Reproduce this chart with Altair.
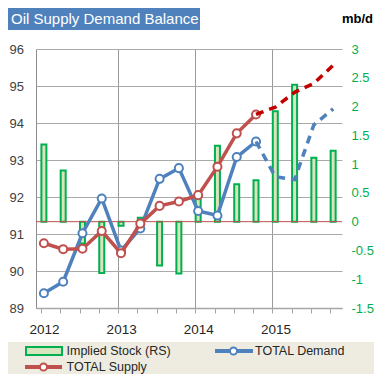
import altair as alt
import pandas as pd

# ---- data ----
quarters = list(range(16))                       # 2012Q1 .. 2015Q4
year_labels = ["2012", "2013", "2014", "2015"]
stock = [1.34, 0.89, -0.38, -0.89, -0.07, 0.07, -0.76, -0.90,
         0.42, 1.32, 0.65, 0.72, 1.92, 2.38, 1.11, 1.23]
demand_actual = [89.40, 89.71, 91.02, 91.96, 90.55, 91.15, 92.49, 92.78,
                 91.62, 91.50, 93.08, 93.50]
demand_forecast = [93.50, 92.55, 92.47, 93.95, 94.38]
supply_actual = [90.75, 90.59, 90.60, 91.08, 90.48, 91.28, 91.76, 91.88,
                 92.05, 92.82, 93.72, 94.23]
supply_forecast = [94.23, 94.43, 94.83, 95.07, 95.56]
left_ticks = [89, 90, 91, 92, 93, 94, 95, 96]
right_ticks = [-1.5, -1, -0.5, 0, 0.5, 1, 1.5, 2, 2.5, 3]
title_text = "Oil Supply Demand Balance"
unit_text = "mb/d"
legend_labels = ["Implied Stock (RS)", "TOTAL Demand", "TOTAL Supply"]

BLUE = "#4F81BD"
RED = "#C0504D"
DRED = "#C00000"
GREEN = "#00B050"
BARFILL = "#D7E4BD"
FONT = "Liberation Sans"

bars_df = pd.DataFrame({"q": quarters, "stock": stock})
zero_df = pd.DataFrame({"stock": [0]})
dem_df = pd.DataFrame({"q": quarters[:12], "v": demand_actual})
dem_f_df = pd.DataFrame({"q": quarters[11:], "v": demand_forecast})
sup_df = pd.DataFrame({"q": quarters[:12], "v": supply_actual})
sup_f_df = pd.DataFrame({"q": quarters[11:], "v": supply_forecast})
one = pd.DataFrame({"a": [0]})

# ---- scales / axes ----
x_scale = alt.Scale(domain=[-0.15, 15.2], nice=False, zero=False)
year_expr = ("round(datum.value + 0.15) % 4 == 0 ? '' + (2012 + round(datum.value + 0.15) / 4) : ''")
x_axis = alt.Axis(
    values=[q - 0.15 for q in quarters], labelExpr=year_expr, labelOffset=3,
    labelFlush=False, labelOverlap=False, labelPadding=9, tickSize=5,
    tickColor="#A6A6A6", domainColor="#A6A6A6", domainWidth=1.5,
    grid=True,
    gridColor={"condition": {"test": "datum.value > 0 && round(datum.value + 0.15) % 4 == 0",
                             "value": "#9A9A9A"}, "value": "transparent"},
    labelFontSize=13.5, labelColor="#262626", labelFont=FONT, title=None)
x_enc = alt.X("q:Q", scale=x_scale, axis=x_axis)

left_axis = alt.Axis(orient="left", values=left_ticks, grid=True, gridColor="#AAAAAA",
                     ticks=False, domain=True, domainColor="#8C8C8C",
                     labelPadding=12.5, labelFontSize=13, labelColor="#404040",
                     labelFont=FONT, title=None)
y_left = alt.Y("v:Q", scale=alt.Scale(domain=[89, 96], nice=False, zero=False), axis=left_axis)

right_axis = alt.Axis(orient="right", values=right_ticks, labelExpr="'' + datum.value",
                      grid=False, ticks=False, domain=False, labelPadding=9,
                      labelFontSize=13, labelColor=GREEN, labelFont=FONT, title=None)
y_right = alt.Y("stock:Q", scale=alt.Scale(domain=[-1.5, 3], nice=False, zero=False), axis=right_axis)

# ---- right group: bars ----
bars = alt.Chart(bars_df).mark_bar(size=5, fill=BARFILL, stroke=GREEN, strokeWidth=2).encode(
    x=x_enc, y=y_right, y2=alt.datum(0))
zero_rule = alt.Chart(zero_df).mark_rule(color=RED, strokeWidth=1).encode(y=y_right)
right_group = alt.layer(bars, zero_rule)

# ---- left group: lines ----
def line(df, color, dash=None):
    kw = dict(color=color, strokeWidth=3.5)
    if dash:
        kw["strokeDash"] = dash
    return alt.Chart(df).mark_line(**kw).encode(x=x_enc, y=y_left)

def pts(df, color):
    return alt.Chart(df).mark_point(filled=False, fill="white", fillOpacity=1, stroke=color,
                                    strokeWidth=2, size=65, opacity=1).encode(x=x_enc, y=y_left)

left_group = alt.layer(
    line(dem_df, BLUE), pts(dem_df, BLUE),
    line(sup_df, RED), pts(sup_df, RED),
    line(dem_f_df, BLUE, [8, 6]),
    line(sup_f_df, DRED, [8, 6]),
)

# ---- decorations (title box, legend) ----
def rect(x, x2, y, y2, fill, stroke=None, sw=0):
    kw = dict(fill=fill)
    if stroke:
        kw.update(stroke=stroke, strokeWidth=sw)
    return alt.Chart(one).mark_rect(**kw).encode(
        x=alt.value(x), x2=alt.value(x2), y=alt.value(y), y2=alt.value(y2))

def text(x, y, t, size=12.5, color="#262626", align="left", weight="normal"):
    return alt.Chart(one).mark_text(align=align, baseline="middle", fontSize=size, color=color,
                                    font=FONT, fontWeight=weight).encode(
        x=alt.value(x), y=alt.value(y), text=alt.value(t))

def hrule(x, x2, y, color, sw):
    return alt.Chart(one).mark_rule(color=color, strokeWidth=sw).encode(
        x=alt.value(x), x2=alt.value(x2), y=alt.value(y))

def dot(x, y, color):
    return alt.Chart(one).mark_point(filled=False, fill="white", fillOpacity=1, stroke=color,
                                     strokeWidth=2, size=50, opacity=1).encode(
        x=alt.value(x), y=alt.value(y))

R1, R2 = 302, 318
decor = [
    rect(-28, 164, -41, -19, BLUE),
    text(-25, -30, title_text, size=15, color="white"),
    text(337, -30, unit_text, size=13, color="#000000", align="right", weight="bold"),
    rect(-28, 338, 293, 325, "#EEECE1"),
    rect(-10, 26, R1 - 4, R1 + 4, BARFILL, GREEN, 2),
    text(30.5, R1, legend_labels[0]),
    hrule(179, 217, R1, BLUE, 4), dot(197.5, R1, BLUE),
    text(219, R1, legend_labels[1]),
    hrule(-11, 26, R2, RED, 4), dot(7.5, R2, RED),
    text(30.5, R2, legend_labels[2]),
]

chart = alt.layer(right_group, left_group, *decor).resolve_scale(y="independent").properties(
    width=306, height=259,
    autosize=alt.AutoSizeParams(type="none"),
    padding={"left": 28, "top": 41, "right": 32, "bottom": 66},
    background="white",
).configure_view(stroke="transparent")

chart.save("out.html", embed_options={"renderer": "svg", "actions": False})
